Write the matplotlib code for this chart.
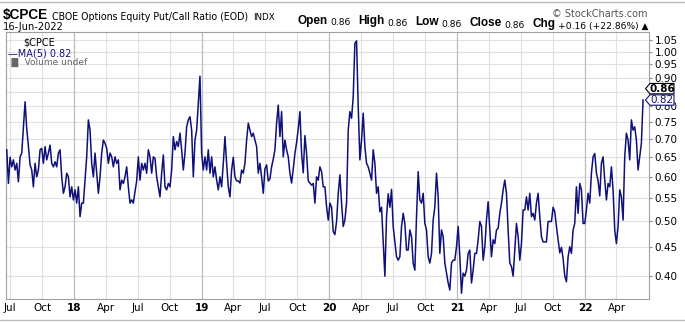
import numpy as np
import pandas as pd
import matplotlib
matplotlib.use("Agg")
import matplotlib.pyplot as plt
import matplotlib.transforms as transforms
from matplotlib.patches import Polygon

# 5-day moving average of the CBOE equity put/call ratio, roughly every 4.8 days
ma5 = [
    # Jun 2017 - Dec 2017
    0.670, 0.584, 0.650, 0.625, 0.643, 0.617, 0.634, 0.588, 0.651, 0.661,
    0.736, 0.815, 0.730, 0.680, 0.630, 0.617, 0.576, 0.634, 0.600, 0.617,
    0.670, 0.674, 0.634, 0.679, 0.643, 0.661, 0.683, 0.634, 0.625, 0.638,
    0.625, 0.661, 0.670, 0.600, 0.561, 0.576, 0.609, 0.600, 0.553, 0.576,
    0.546, 0.569, 0.539, 0.576, 0.510, 0.539, 0.539, 0.592, 0.651, 0.757,
    0.726, 0.634, 0.600, 0.661, 0.609, 0.561, 0.600, 0.661, 0.697, 0.688,
    0.674, 0.634, 0.661, 0.651, 0.625, 0.651, 0.634, 0.643, 0.569, 0.592,
    0.584, 0.600, 0.625, 0.576, 0.539, 0.546, 0.539,
    # 2018 - 2019
    0.565, 0.590, 0.651, 0.592, 0.634, 0.617, 0.634, 0.609, 0.670, 0.651,
    0.609, 0.651, 0.647, 0.600, 0.576, 0.553, 0.609, 0.656, 0.576, 0.569,
    0.584, 0.576, 0.617, 0.707, 0.670, 0.693, 0.679, 0.717, 0.670, 0.617,
    0.661, 0.736, 0.757, 0.767, 0.726, 0.600, 0.697, 0.726, 0.810, 0.905,
    0.660, 0.617, 0.651, 0.617, 0.670, 0.609, 0.651, 0.600, 0.625, 0.592,
    0.569, 0.600, 0.576, 0.634, 0.707, 0.634, 0.576, 0.553, 0.617, 0.650,
    0.600, 0.590, 0.590, 0.585, 0.617, 0.609, 0.634, 0.697, 0.747, 0.726,
    0.707, 0.717, 0.697, 0.679, 0.609, 0.634, 0.600, 0.561,
    # 2019 - 2020
    0.620, 0.630, 0.590, 0.595, 0.625, 0.645, 0.670, 0.747, 0.804, 0.707,
    0.783, 0.651, 0.697, 0.670, 0.651, 0.609, 0.585, 0.620, 0.660, 0.690,
    0.730, 0.783, 0.660, 0.610, 0.710, 0.660, 0.590, 0.585, 0.580, 0.584,
    0.539, 0.600, 0.592, 0.625, 0.613, 0.576, 0.576, 0.531, 0.503, 0.539,
    0.530, 0.480, 0.474, 0.500, 0.560, 0.605, 0.539, 0.490, 0.503, 0.539,
    0.726, 0.783, 0.762, 0.832, 1.035, 1.045, 0.800, 0.643, 0.697, 0.778,
    0.679, 0.634, 0.625, 0.609, 0.592, 0.670, 0.634, 0.561, 0.576, 0.520,
    0.530, 0.460, 0.400, 0.510, 0.560, 0.530, 0.570, 0.490, 0.460,
    # 2020 - 2021
    0.433, 0.427, 0.433, 0.490, 0.517, 0.496, 0.445, 0.445, 0.483, 0.470,
    0.422, 0.410, 0.510, 0.613, 0.546, 0.539, 0.561, 0.496, 0.483, 0.433,
    0.422, 0.439, 0.503, 0.531, 0.609, 0.553, 0.439, 0.483, 0.470, 0.422,
    0.405, 0.389, 0.378, 0.422, 0.427, 0.427, 0.451, 0.490, 0.433, 0.373,
    0.405, 0.400, 0.410, 0.439, 0.445, 0.389, 0.410, 0.439, 0.439, 0.464,
    0.500, 0.490, 0.427, 0.451, 0.503, 0.542, 0.483, 0.433, 0.464, 0.457,
    0.483, 0.486, 0.517, 0.539, 0.569, 0.592, 0.561, 0.483, 0.422, 0.416,
    0.400, 0.445, 0.496, 0.470, 0.427, 0.457, 0.524, 0.524,
    # 2021 - Jun 2022
    0.553, 0.524, 0.561, 0.510, 0.517, 0.503, 0.539, 0.561, 0.510, 0.470,
    0.460, 0.460, 0.460, 0.500, 0.500, 0.500, 0.530, 0.520, 0.490, 0.465,
    0.440, 0.450, 0.430, 0.400, 0.391, 0.433, 0.451, 0.439, 0.483, 0.496,
    0.576, 0.517, 0.584, 0.569, 0.496, 0.496, 0.524, 0.561, 0.539, 0.609,
    0.651, 0.660, 0.610, 0.590, 0.555, 0.634, 0.651, 0.592, 0.546, 0.584,
    0.576, 0.625, 0.569, 0.483, 0.457, 0.490, 0.569, 0.553, 0.503, 0.651,
    0.717, 0.697, 0.643, 0.757, 0.726, 0.736, 0.697, 0.617, 0.651, 0.688,
    0.821,
]
dates = pd.date_range("2017-06-22", "2022-06-16", periods=len(ma5))

y_ticks = [0.40, 0.45, 0.50, 0.55, 0.60, 0.65, 0.70, 0.75, 0.80, 0.85,
           0.90, 0.95, 1.00, 1.05]
quarters = pd.date_range("2017-07-01", "2022-04-01", freq="QS")
last_close = 0.86
last_ma = ma5[-1]
stats = [("Open", "0.86"), ("High", "0.86"), ("Low", "0.86"),
         ("Close", "0.86"), ("Chg", "+0.16 (+22.86%) \u25b2")]

NAVY = "#10107a"
W, H = 685, 322
plt.rcParams["font.family"] = "DejaVu Sans"
fig = plt.figure(figsize=(W / 100, H / 100), dpi=100)

ax = fig.add_axes([5.7 / W, 1 - 299 / H, (649 - 5.7) / W, (299 - 32) / H])
ax.plot(dates, ma5, color=NAVY, lw=1.1, zorder=3)

ax.set_yscale("log")
ax.set_ylim(0.3644, 1.0837)
ax.set_xlim(pd.Timestamp("2017-06-19"), pd.Timestamp("2022-07-03"))

# horizontal grid every 0.05, labels on the right
ax.yaxis.tick_right()
ax.set_yticks(y_ticks)
ax.set_yticklabels(["" if t == 0.85 else f"{t:.2f}" for t in y_ticks])
ax.yaxis.set_minor_locator(matplotlib.ticker.NullLocator())
ax.tick_params(axis="y", length=2, pad=2, labelsize=7.5, colors="#888888",
               labelcolor="black")
for t in y_ticks:
    ax.axhline(t, color="#e0e0e0", lw=0.8, zorder=0)

# quarterly vertical grid, darker at the start of each year
ax.set_xticks(quarters)
labels = []
for q in quarters:
    labels.append(q.strftime("%y") if q.month == 1 else q.strftime("%b"))
ax.set_xticklabels(labels)
ax.tick_params(axis="x", length=0, pad=3, labelsize=7.5)
for q, lab in zip(quarters, ax.get_xticklabels()):
    if q.month == 1:
        lab.set_fontweight("bold")
        ax.axvline(q, color="#bcbcbc", lw=0.9, zorder=0)
    else:
        ax.axvline(q, color="#e0e0e0", lw=0.8, zorder=0)

for s in ax.spines.values():
    s.set_color("#a0a0a0")
    s.set_linewidth(0.8)

# value tags at the right edge
trans = transforms.blended_transform_factory(ax.transAxes, ax.transData)
def tag(value, text, edge, color, weight):
    off = fig.dpi_scale_trans + transforms.ScaledTranslation(1.0, value, trans)
    h = 0.052
    pts = [(-0.035, 0), (0.01, h), (0.25, h), (0.25, -h), (0.01, -h)]
    ax.add_artist(Polygon(pts, closed=True, transform=off, facecolor="white",
                          edgecolor=edge, lw=0.8, clip_on=False, zorder=5))
    ax.text(0.13, 0, text, transform=off, ha="center", va="center",
            fontsize=7.5, color=color, fontweight=weight, zorder=6)

tag(last_close, f"{last_close:.2f}", "black", "black", "bold")
tag(last_ma, f"{last_ma:.2f}", NAVY, NAVY, "normal")

# legend block inside the plot
ax.text(0.028, 0.978, "$CPCE", transform=ax.transAxes, fontsize=7,
        va="top", ha="left")
ax.text(0.003, 0.94, "\u2014MA(5) 0.82", transform=ax.transAxes, fontsize=7,
        va="top", ha="left", color=NAVY)
ax.text(0.003, 0.902, "\u2590\u258c Volume undef", transform=ax.transAxes,
        fontsize=6.5, va="top", ha="left", color="#666666")

# header, left part
t = fig.text(3 / W, 1 - 19 / H, "$CPCE", fontsize=9.8, fontweight="bold",
             family="Liberation Sans", va="baseline")
t = ax.annotate("CBOE Options Equity Put/Call Ratio (EOD)", xy=(1, 0),
                xycoords=t, xytext=(2.5, 0), textcoords="offset points",
                fontsize=6.85, va="bottom", annotation_clip=False)
ax.annotate("INDX", xy=(1, 0), xycoords=t, xytext=(4, 0),
            textcoords="offset points", fontsize=6.3, va="bottom",
            annotation_clip=False)
fig.text(3 / W, 1 - 29.5 / H, "16-Jun-2022", fontsize=7.1, va="baseline")
fig.text(648 / W, 1 - 17 / H, "\u00a9 StockCharts.com", fontsize=7,
         color="#555555", ha="right", va="baseline")

# stats line built right to left: bold keys, plain values
val_style = dict(fontsize=6.6, family="DejaVu Sans", annotation_clip=False)
key_style = dict(fontsize=8.5, family="Liberation Sans", fontweight="bold",
                 annotation_clip=False)
nxt = fig.text(649 / W, 1 - 29 / H, stats[-1][1], fontsize=6.6,
               family="DejaVu Sans", ha="right", va="baseline")
first = True
for key, val in reversed(stats):
    if not first:
        nxt = ax.annotate(val, xy=(0, 0), xycoords=nxt, xytext=(-5.5, 0),
                          textcoords="offset points", ha="right",
                          va="bottom", **val_style)
    first = False
    nxt = ax.annotate(key, xy=(0, 0.1), xycoords=nxt, xytext=(-2, 0),
                      textcoords="offset points", ha="right", va="bottom",
                      **key_style)

# frame lines at top and bottom
fig.add_artist(plt.Line2D([0, 1], [1 - 1.5 / H, 1 - 1.5 / H],
                          color="#bbbbbb", lw=1))
fig.add_artist(plt.Line2D([0, 1], [1 - 320 / H, 1 - 320 / H],
                          color="#bbbbbb", lw=1))

fig.savefig("out.png", dpi=100)
